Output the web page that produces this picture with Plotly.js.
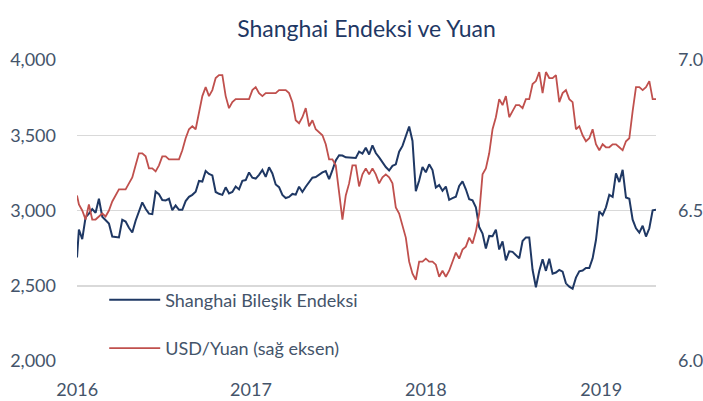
<!DOCTYPE html>
<html>
<head>
<meta charset="utf-8">
<script src="https://cdn.plot.ly/plotly-3.0.1.min.js"></script>
<style>
html,body{margin:0;padding:0;background:#ffffff;}
#chart{width:703px;height:401px;}
</style>
</head>
<body>
<div id="chart"></div>
<script>
// Weekly observations: first point 2016-02-29, then every Friday from 2016-03-04 to 2019-06-28
const firstDate = '2016-02-29';
const firstFriday = '2016-03-04';

const shanghai = [
2688,
2874,2810,2955,2979,3009,2985,3078,2959,2938,2913,2827,2826,2821,2938,2927,2885,2854,2932,2988,3054,3012,2979,2976,3125,3108,3070,3067,3078,3002,3033,3005,3005,3063,3091,3104,3125,3196,3192,3262,3243,3233,3123,3111,3104,
3154,3113,3123,3159,3140,3197,3202,3253,3218,3212,3237,3269,3223,3287,3246,3173,3155,3103,3083,3090,3110,3105,3158,3123,3158,3192,3218,3222,3238,3253,3262,3209,3268,3332,3367,3365,3353,3352,3349,3349,3391,3378,3417,3372,3433,3382,3353,3317,3289,3266,3297,3307,
3391,3429,3488,3558,3462,3129,3199,3289,3254,3307,3269,3153,3169,3131,3159,3071,3082,3091,3163,3193,3141,3075,3067,3022,2890,2847,2747,2831,2829,2873,2741,2795,2669,2729,2725,2702,2682,2797,2821,2821,2606,2490,2598,2676,2599,2679,2580,2588,2605,2594,2516,2494,
2480,2554,2596,2601,2618,2618,2682,2804,2994,2969,3021,3104,3091,3247,3189,3270,3086,3078,2939,2882,2853,2899,2827,2882,3001,3005
];

const usdYuan = [
6.55,
6.52,6.50,6.47,6.52,6.47,6.47,6.48,6.49,6.48,6.50,6.53,6.55,6.57,6.57,6.57,6.59,6.61,6.65,6.69,6.69,6.68,6.64,6.64,6.63,6.65,6.68,6.68,6.67,6.67,6.67,6.67,6.70,6.74,6.77,6.78,6.77,6.83,6.88,6.91,6.88,6.90,6.94,6.95,6.95,
6.88,6.84,6.86,6.87,6.87,6.87,6.87,6.87,6.90,6.91,6.89,6.88,6.89,6.89,6.89,6.89,6.90,6.90,6.90,6.89,6.86,6.80,6.79,6.81,6.84,6.78,6.80,6.77,6.76,6.75,6.72,6.67,6.67,6.65,6.56,6.47,6.55,6.59,6.65,6.65,6.58,6.62,6.64,6.62,6.64,6.62,6.59,6.61,6.62,6.61,6.59,6.51,
6.49,6.45,6.41,6.33,6.29,6.27,6.33,6.33,6.34,6.33,6.33,6.32,6.28,6.30,6.28,6.30,6.33,6.36,6.34,6.37,6.38,6.41,6.39,6.43,6.49,6.62,6.64,6.69,6.77,6.81,6.87,6.85,6.88,6.81,6.83,6.85,6.85,6.84,6.87,6.87,6.92,6.93,6.96,6.89,6.96,6.94,6.94,6.95,6.86,6.89,6.90,6.87,
6.86,6.77,6.78,6.75,6.73,6.74,6.77,6.72,6.70,6.72,6.71,6.71,6.72,6.72,6.71,6.70,6.73,6.74,6.83,6.91,6.91,6.90,6.91,6.93,6.87,6.87
];

const tickDates = ['2016-02-29 12:00','2017-02-28','2018-03-02','2019-03-05'];
const tickLabels = ['2016','2017','2018','2019'];
const leftTicks = [2000,2500,3000,3500,4000];
const rightTicks = [6.0,6.5,7.0];
const seriesNames = ['Shanghai Bileşik Endeksi','USD/Yuan (sağ eksen)'];
const chartTitle = 'Shanghai Endeksi ve Yuan';

function buildDates(n){
  const out = [firstDate];
  const base = new Date(firstFriday + 'T00:00:00Z').getTime();
  for (let i = 0; i < n - 1; i++) {
    out.push(new Date(base + i * 7 * 86400000).toISOString().slice(0,10));
  }
  return out;
}
const dates = buildDates(shanghai.length);

const labelFont = {family:'Lato, "Open Sans", sans-serif', size:18, color:'#44546A'};

const traces = [
  {x:dates, y:shanghai, type:'scatter', mode:'lines', name:seriesNames[0], legendgroup:'a',
   line:{color:'#1F3864', width:2}, yaxis:'y'},
  {x:dates, y:usdYuan, type:'scatter', mode:'lines', name:seriesNames[1], legendgroup:'b',
   line:{color:'#C0504D', width:1.8}, yaxis:'y2'}
];

const layout = {
  width:703, height:401,
  margin:{l:77, r:47, t:60, b:40, pad:0},
  paper_bgcolor:'#ffffff', plot_bgcolor:'#ffffff',
  title:{text:chartTitle, font:{family:'Lato, "Open Sans", sans-serif', size:23, color:'#1F3864'},
         x:0.5, xref:'paper', xanchor:'center', y:0.927, yref:'container', yanchor:'middle'},
  xaxis:{type:'date', range:[dates[0], dates[dates.length-1]], tickmode:'array', tickvals:tickDates, ticktext:tickLabels,
         showgrid:false, zeroline:false, showline:false, ticks:'', tickfont:labelFont, ticklabelstandoff:16, fixedrange:true},
  yaxis:{range:[2000,4000], tickmode:'array', tickvals:leftTicks, tickformat:',d',
         showgrid:true, gridcolor:'#D9D9D9', gridwidth:1.5, zeroline:false, showline:false, ticks:'',
         tickfont:labelFont, ticklabelstandoff:20},
  yaxis2:{range:[6,7], overlaying:'y', side:'right', tickmode:'array', tickvals:rightTicks, tickformat:'.1f',
          showgrid:false, zeroline:false, showline:false, ticks:'', tickfont:labelFont, ticklabelstandoff:21},
  showlegend:true,
  legend:{x:0.047, y:0.264, xanchor:'left', yanchor:'top', traceorder:'grouped', tracegroupgap:22,
          itemwidth:51, bgcolor:'rgba(0,0,0,0)', borderwidth:0, font:labelFont}
};

Plotly.newPlot('chart', traces, layout, {displayModeBar:false, staticPlot:true});
</script>
</body>
</html>
